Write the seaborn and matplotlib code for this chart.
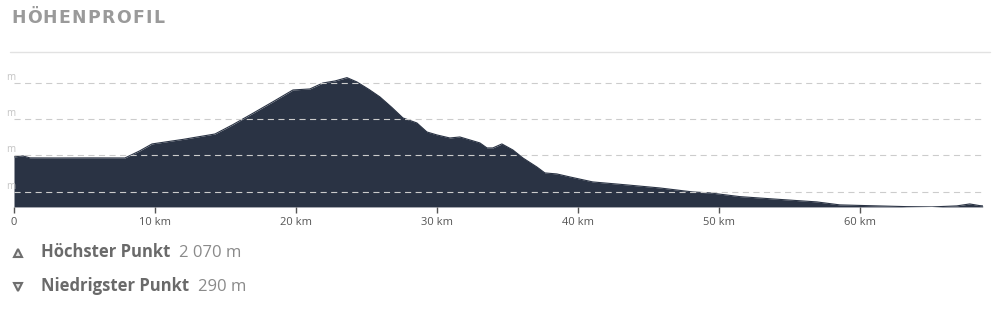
import matplotlib
matplotlib.use("Agg")
import matplotlib.pyplot as plt
import seaborn as sns
from matplotlib.lines import Line2D

# ---- data ----
distance_km = [0.0, 0.64, 1.13, 3.0, 5.5, 7.87, 8.9, 9.79, 12.0, 14.26, 15.5, 16.74,
               18.3, 19.79, 20.99, 21.91, 22.77, 23.62, 24.33, 25.2, 25.96, 26.8,
               27.59, 28.58, 29.29, 30.0, 30.92, 31.63, 32.34, 33.05, 33.55, 33.97,
               34.61, 35.39, 36.1, 37.09, 37.66, 38.51, 39.43, 41.06, 43.48, 45.82,
               48.16, 49.36, 51.49, 53.83, 56.95, 58.58, 60.5, 63.33, 65.1, 66.88,
               67.8, 68.5, 68.72]
elevation_m = [978, 992, 965, 964, 965, 964, 1060, 1157, 1220, 1294, 1420, 1556,
               1730, 1900, 1914, 1996, 2024, 2070, 2010, 1905, 1804, 1660,
               1515, 1446, 1322, 1281, 1239, 1253, 1212, 1171, 1102, 1102,
               1157, 1074, 964, 840, 758, 744, 703, 634, 593, 551,
               496, 483, 432, 400, 359, 318, 308, 294, 290, 304,
               331, 308, 304]

x_ticks = [0, 10, 20, 30, 40, 50, 60]
x_tick_labels = ["0", "10 km", "20 km", "30 km", "40 km", "50 km", "60 km"]
y_grid = [500, 1000, 1500, 2000]
y_grid_labels = ["m", "m", "m", "m"]   # only the unit tail of each label is visible
title_text = "HÖHENPROFIL"
high_label = "Höchster Punkt"
low_label = "Niedrigster Punkt"

def fmt_m(v):
    return f"{int(round(v)):,}".replace(",", " ") + " m"

# ---- style ----
sns.set_theme(style="white")
plt.rcParams['font.family'] = ['Open Sans', 'DejaVu Sans']

fill_color = "#2a3344"
fig = plt.figure(figsize=(10, 3.14), dpi=100)
ax = fig.add_axes([0.014, 0.341, 0.9687, 0.465])

ymin = min(elevation_m)
ax.fill_between(distance_km, elevation_m, ymin, color=fill_color, lw=0, zorder=1)
sns.lineplot(x=distance_km, y=elevation_m, ax=ax, color=fill_color, lw=0.8, zorder=1.5)

ax.set_xlim(0, max(distance_km))
ax.set_ylim(ymin, 2300)

ax.set_yticks(y_grid)
ax.set_yticklabels([])
ax.tick_params(axis='y', length=0)
ax.set_axisbelow(False)
ax.yaxis.grid(True, color="#cccccc", lw=0.8, linestyle=(0, (5.5, 4)), zorder=3)
ax.xaxis.grid(False)

ax.set_xticks(x_ticks)
ax.set_xticklabels(x_tick_labels)
ax.tick_params(axis='x', length=4, width=1, color="#555555", direction='out',
               labelsize=8, labelcolor="#555555", pad=3, bottom=True)
for s in ax.spines.values():
    s.set_visible(False)
ax.set_xlabel("")
ax.set_ylabel("")

for v, lab in zip(y_grid, y_grid_labels):
    ax.text(0.0012, v, lab, transform=ax.get_yaxis_transform(), ha='right',
            va='bottom', fontsize=7, color="#c4c4c4")

fig.canvas.draw()
renderer = fig.canvas.get_renderer()

# title with slight letter spacing
cursor = 11.0
for ch in title_text:
    t = fig.text(cursor / 1000, 0.926, ch, fontsize=12.4, fontweight='bold',
                 color="#9a9a9a", va='baseline', ha='left', family=['DejaVu Sans'])
    w = t.get_window_extent(renderer).width
    cursor += w + 1.3

fig.add_artist(Line2D([0.010, 0.990], [0.834, 0.834], transform=fig.transFigure,
                      color="#e2e2e2", lw=1))

# summary lines
rows = [(0.1815, '^', high_label, fmt_m(max(elevation_m))),
        (0.0732, 'v', low_label, fmt_m(min(elevation_m)))]
for yy, mk, lab, val in rows:
    fig.add_artist(Line2D([0.0175], [yy + 0.013], marker=mk, markersize=5.6,
                          markerfacecolor="#e4e4e4", markeredgecolor="#6e6e6e",
                          markeredgewidth=1.5, linestyle='none',
                          transform=fig.transFigure))
    t = fig.text(0.041, yy, lab, fontsize=12, fontweight='bold', color="#6a6a6a",
                 va='baseline', ha='left')
    bb = t.get_window_extent(renderer)
    fig.text((bb.x1 + 9) / 1000, yy, val, fontsize=12, color="#8a8a8a",
             va='baseline', ha='left')

fig.savefig("out.png", dpi=100)
